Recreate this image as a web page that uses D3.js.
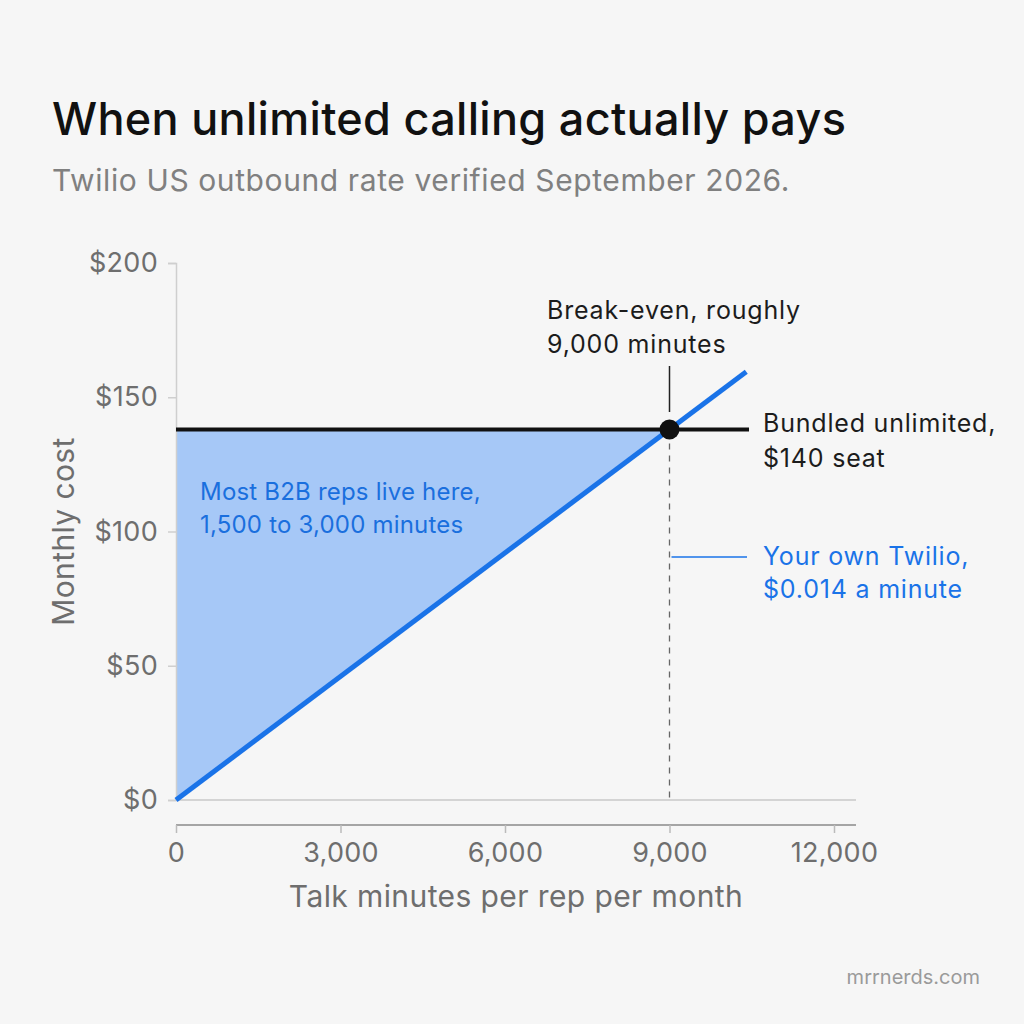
<!DOCTYPE html>
<html><head><meta charset="utf-8">
<script src="https://cdn.jsdelivr.net/npm/d3@7"></script>
<style>
html,body{margin:0;padding:0;background:#f6f6f6;}
svg{display:block;font-family:Inter,"Noto Sans",sans-serif;}
</style></head>
<body>
<script>
// Data
const xTicks = [0, 3000, 6000, 9000, 12000];
const yTicks = [0, 50, 100, 150, 200];
const twilioLine = [[0, 0], [10400, 159.5]];      // minutes, $
const bundledLine = [[0, 138], [10450, 138]];
const breakEven = [9000, 138];
const shadeArea = [[0, 0], [0, 138], [9000, 138]];

const W = 1024, H = 1024;
const svg = d3.select("body").append("svg").attr("width", W).attr("height", H);
svg.append("rect").attr("width", W).attr("height", H).attr("fill", "#f6f6f6");

const x = d3.scaleLinear().domain([0, 12000]).range([176, 834]);
const y = d3.scaleLinear().domain([0, 200]).range([800, 263]);

// Title
svg.append("text").attr("x", 52).attr("y", 135).attr("font-size", 45).attr("font-weight", 500)
  .attr("letter-spacing", 0.3).attr("fill", "#111").text("When unlimited calling actually pays");
svg.append("text").attr("x", 52).attr("y", 191).attr("font-size", 30).attr("letter-spacing", 0.6)
  .attr("fill", "#808080").text("Twilio US outbound rate verified September 2026.");

// Shaded area
svg.append("path").datum(shadeArea)
  .attr("d", d3.line().x(d => x(d[0])).y(d => y(d[1])).curve(d3.curveLinearClosed))
  .attr("fill", "#a6c8f7");

// y axis
const yAxis = svg.append("g").attr("transform", `translate(${x(0)},0)`)
  .call(d3.axisLeft(y).tickValues(yTicks).tickFormat(d => "$" + d).tickSize(8).tickPadding(10));
yAxis.select(".domain").attr("stroke", "#cfcfcf").attr("stroke-width", 1.5);
yAxis.selectAll(".tick line").attr("stroke", "#cfcfcf").attr("stroke-width", 1.5);
yAxis.selectAll(".tick text").attr("font-size", 27).attr("letter-spacing", 0.3).attr("fill", "#6e6e6e").attr("font-family", "Inter,sans-serif");

// zero gridline
svg.append("line").attr("x1", x(0)).attr("x2", 856).attr("y1", y(0)).attr("y2", y(0))
  .attr("stroke", "#d4d4d4").attr("stroke-width", 2);

// x axis
const xAxis = svg.append("g").attr("transform", `translate(0,825)`)
  .call(d3.axisBottom(x).tickValues(xTicks).tickFormat(d3.format(",")).tickSize(8).tickSizeOuter(0).tickPadding(10));
xAxis.select(".domain").attr("d", `M${x(0)},0H856`).attr("stroke", "#8a8a8a").attr("stroke-width", 1.5);
xAxis.selectAll(".tick line").attr("stroke", "#bbbbbb").attr("stroke-width", 1.5);
xAxis.selectAll(".tick text").attr("font-size", 27).attr("letter-spacing", 0.3).attr("fill", "#6e6e6e").attr("font-family", "Inter,sans-serif");

// axis titles
svg.append("text").attr("transform", `translate(74,${y(100)}) rotate(-90)`).attr("text-anchor", "middle")
  .attr("font-size", 30).attr("letter-spacing", 0.4).attr("fill", "#6e6e6e").text("Monthly cost");
svg.append("text").attr("x", 516).attr("y", 907).attr("text-anchor", "middle")
  .attr("font-size", 30).attr("letter-spacing", 0.4).attr("fill", "#6e6e6e").text("Talk minutes per rep per month");

// dashed vertical at break-even
svg.append("line").attr("x1", x(breakEven[0])).attr("x2", x(breakEven[0]))
  .attr("y1", y(breakEven[1]) + 14).attr("y2", y(0))
  .attr("stroke", "#666").attr("stroke-width", 1.3).attr("stroke-dasharray", "6,6");

// bundled line
svg.append("path").datum(bundledLine)
  .attr("d", d3.line().x(d => x(d[0])).y(d => y(d[1])))
  .attr("stroke", "#111").attr("stroke-width", 4).attr("fill", "none");

// twilio line
svg.append("path").datum(twilioLine)
  .attr("d", d3.line().x(d => x(d[0])).y(d => y(d[1])))
  .attr("stroke", "#1a73e8").attr("stroke-width", 5).attr("fill", "none");

// break-even dot
svg.append("circle").attr("cx", x(breakEven[0])).attr("cy", y(breakEven[1])).attr("r", 10).attr("fill", "#111");

// leader above dot
svg.append("line").attr("x1", x(breakEven[0])).attr("x2", x(breakEven[0]))
  .attr("y1", 366).attr("y2", 412).attr("stroke", "#222").attr("stroke-width", 1.5);

// annotations
function multi(xp, yp, lines, color, lh, fs, ls) {
  const t = svg.append("text").attr("x", xp).attr("y", yp).attr("font-size", fs)
    .attr("letter-spacing", ls).attr("fill", color);
  lines.forEach((l, i) => t.append("tspan").attr("x", xp).attr("dy", i ? lh : 0).text(l));
}
multi(547, 319, ["Break-even, roughly", "9,000 minutes"], "#1c1c1c", 34, 25, 0.8);
multi(763, 432, ["Bundled unlimited,", "$140 seat"], "#1c1c1c", 35, 25, 0.8);
multi(763, 565, ["Your own Twilio,", "$0.014 a minute"], "#1a73e8", 33, 25, 0.8);
multi(200, 500, ["Most B2B reps live here,", "1,500 to 3,000 minutes"], "#1a6fde", 33, 24, 0.2);

// blue leader
svg.append("line").attr("x1", x(breakEven[0]) + 2).attr("x2", 747).attr("y1", 557).attr("y2", 557)
  .attr("stroke", "#1a73e8").attr("stroke-width", 1.5);

// footer
svg.append("text").attr("x", 980).attr("y", 984).attr("text-anchor", "end").attr("font-size", 20)
  .attr("fill", "#9a9a9a").text("mrrnerds.com");
</script>
</body></html>
